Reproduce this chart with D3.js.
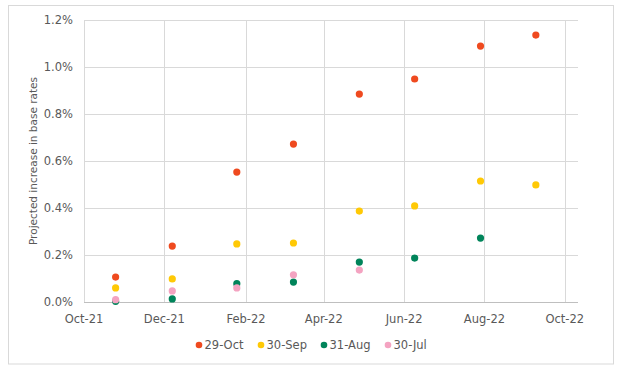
<!DOCTYPE html>
<html>
<head>
<meta charset="utf-8">
<script src="https://cdn.jsdelivr.net/npm/d3@7"></script>
<style>
  body { margin: 0; background: #fff; }
  text { font-family: "DejaVu Sans", Verdana, sans-serif; fill: #595959; }
</style>
</head>
<body>
<div id="chart"></div>
<script>
const width = 624, height = 377;

// projection dates (x) shared by all series
const pointDates = ["2021-10-25", "2021-12-07", "2022-01-25", "2022-03-09",
                    "2022-04-28", "2022-06-09", "2022-07-29", "2022-09-09"];

// projected increase in base rates, %
const oct29 = [0.106, 0.238, 0.553, 0.672, 0.885, 0.949, 1.089, 1.136];
const sep30 = [0.060, 0.098, 0.247, 0.251, 0.387, 0.409, 0.515, 0.498];
const aug31 = [0.003, 0.013, 0.078, 0.085, 0.170, 0.187, 0.272];
const jul30 = [0.010, 0.047, 0.060, 0.116, 0.136];

const seriesNames = ["29-Oct", "30-Sep", "31-Aug", "30-Jul"];
const seriesColors = ["#ef4a1f", "#ffc905", "#00845a", "#f4a3c1"];

const xTicks = ["2021-10-01", "2021-12-01", "2022-02-01", "2022-04-01",
                "2022-06-01", "2022-08-01", "2022-10-01"];
const yTicks = [0, 0.2, 0.4, 0.6, 0.8, 1.0, 1.2];

const parse = d3.utcParse("%Y-%m-%d");

const margin = { left: 84, right: 46, top: 20, bottom: 75 };

const svg = d3.select("#chart")
  .append("svg")
  .attr("width", width)
  .attr("height", height);

// outer chart border
svg.append("rect")
  .attr("x", 8.5).attr("y", 5.5)
  .attr("width", 605).attr("height", 358.5)
  .attr("fill", "none")
  .attr("stroke", "#d9d9d9");

const x = d3.scaleUtc()
  .domain([parse("2021-10-01"), parse("2022-10-11")])
  .range([margin.left, width - margin.right]);

const y = d3.scaleLinear()
  .domain([0, 1.2])
  .range([height - margin.bottom, margin.top]);

// horizontal gridlines
svg.append("g")
  .selectAll("line")
  .data(yTicks)
  .enter().append("line")
  .attr("x1", x.range()[0]).attr("x2", x.range()[1])
  .attr("y1", d => Math.round(y(d)) + 0.5)
  .attr("y2", d => Math.round(y(d)) + 0.5)
  .attr("stroke", d => d === 0 ? "#bfbfbf" : "#d9d9d9");

// vertical gridlines
svg.append("g")
  .selectAll("line")
  .data(xTicks.map(parse))
  .enter().append("line")
  .attr("x1", d => Math.round(x(d)) + 0.5)
  .attr("x2", d => Math.round(x(d)) + 0.5)
  .attr("y1", y(1.2)).attr("y2", y(0))
  .attr("stroke", "#d9d9d9");

// y tick labels
svg.append("g")
  .selectAll("text")
  .data(yTicks)
  .enter().append("text")
  .attr("x", 73)
  .attr("y", d => y(d))
  .attr("dy", "0.35em")
  .attr("text-anchor", "end")
  .style("font-size", "11.5px")
  .text(d => d3.format(".1f")(d) + "%");

// x tick labels
svg.append("g")
  .selectAll("text")
  .data(xTicks.map(parse))
  .enter().append("text")
  .attr("x", d => x(d))
  .attr("y", 323)
  .attr("text-anchor", "middle")
  .style("font-size", "11.5px")
  .text(d => d3.utcFormat("%b-%y")(d));

// y axis title
svg.append("text")
  .attr("transform", "translate(37," + ((y(0) + y(1.2)) / 2) + ") rotate(-90)")
  .attr("text-anchor", "middle")
  .style("font-size", "10.5px")
  .text("Projected increase in base rates");

// points
const allSeries = [oct29, sep30, aug31, jul30];
allSeries.forEach((vals, i) => {
  svg.append("g")
    .selectAll("circle")
    .data(vals)
    .enter().append("circle")
    .attr("cx", (d, j) => x(parse(pointDates[j])))
    .attr("cy", d => y(d))
    .attr("r", 3.6)
    .attr("fill", seriesColors[i]);
});

// legend
const legendX = [199, 261, 324, 388];
const legend = svg.append("g")
  .selectAll("g")
  .data(seriesNames)
  .enter().append("g")
  .attr("transform", (d, i) => "translate(" + legendX[i] + ",345)");
legend.append("circle")
  .attr("r", 3.3)
  .attr("fill", (d, i) => seriesColors[i]);
legend.append("text")
  .attr("x", 5.5)
  .attr("dy", "0.35em")
  .style("font-size", "11.5px")
  .text(d => d);
</script>
</body>
</html>
